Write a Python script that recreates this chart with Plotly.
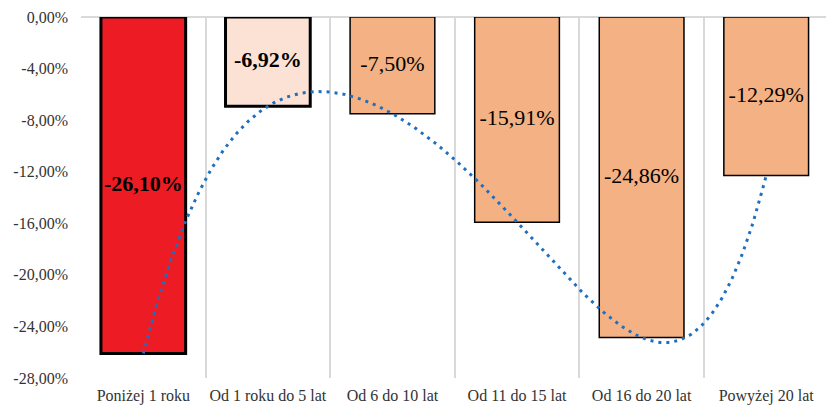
import numpy as np
import plotly.graph_objects as go

# Categories (age of the building) and percentage change per group
categories = ["Poniżej 1 roku", "Od 1 roku do 5 lat", "Od 6 do 10 lat",
              "Od 11 do 15 lat", "Od 16 do 20 lat", "Powyżej 20 lat"]
values = [-26.10, -6.92, -7.50, -15.91, -24.86, -12.29]
value_labels = ["-26,10%", "-6,92%", "-7,50%", "-15,91%", "-24,86%", "-12,29%"]
bold_labels = [True, True, False, False, False, False]

y_ticks = [0, -4, -8, -12, -16, -20, -24, -28]
y_tick_labels = ["0,00%", "-4,00%", "-8,00%", "-12,00%", "-16,00%", "-20,00%", "-24,00%", "-28,00%"]

bar_colors = ["#ED1C24", "#FBE2D5", "#F4B183", "#F4B183", "#F4B183", "#F4B183"]
border_widths = [3, 3, 1.5, 1.5, 1.5, 1.5]

x = np.arange(len(categories))

# Polynomial trend line (order 5) through the category values
coef = np.polyfit(x, values, 5)
xs = np.linspace(0, len(categories) - 1, 300)
ys = np.polyval(coef, xs)

serif = "Liberation Serif, Times New Roman, serif"

fig = go.Figure()

fig.add_trace(go.Bar(
    x=x, y=values, width=0.68,
    marker=dict(color=bar_colors, line=dict(color="black", width=border_widths)),
    hoverinfo="skip",
))

fig.add_trace(go.Scatter(
    x=xs, y=ys, mode="lines",
    line=dict(color="#1F6FC0", width=3, dash="3px,5px"),
    hoverinfo="skip",
))

fig.add_trace(go.Scatter(
    x=x, y=[v / 2 for v in values], mode="text",
    text=[f"<b>{t}</b>" if b else t for t, b in zip(value_labels, bold_labels)],
    textposition="middle center",
    textfont=dict(family=serif, size=22, color="black"),
    hoverinfo="skip",
))

fig.update_layout(
    width=826, height=406,
    margin=dict(l=81, r=0, t=17, b=28),
    plot_bgcolor="white", paper_bgcolor="white",
    showlegend=False,
    font=dict(family=serif, size=16, color="#333333"),
    xaxis=dict(
        range=[-0.5, len(categories) - 0.52],
        tickvals=list(x), ticktext=categories,
        showgrid=False, zeroline=False, showline=False, ticks="",
        ticklabelstandoff=6,
        automargin=False,
        minor=dict(tickvals=[i - 0.5 for i in range(len(categories) + 1)],
                   showgrid=True, gridcolor="#D9D9D9", gridwidth=1.5, ticks=""),
    ),
    yaxis=dict(
        range=[-28, 0],
        tickvals=y_ticks, ticktext=y_tick_labels,
        showgrid=False, zeroline=True, zerolinecolor="#D9D9D9", zerolinewidth=1.5,
        showline=False, ticks="",
        ticklabelstandoff=12,
        automargin=False,
    ),
)

fig.write_html("out.html")
